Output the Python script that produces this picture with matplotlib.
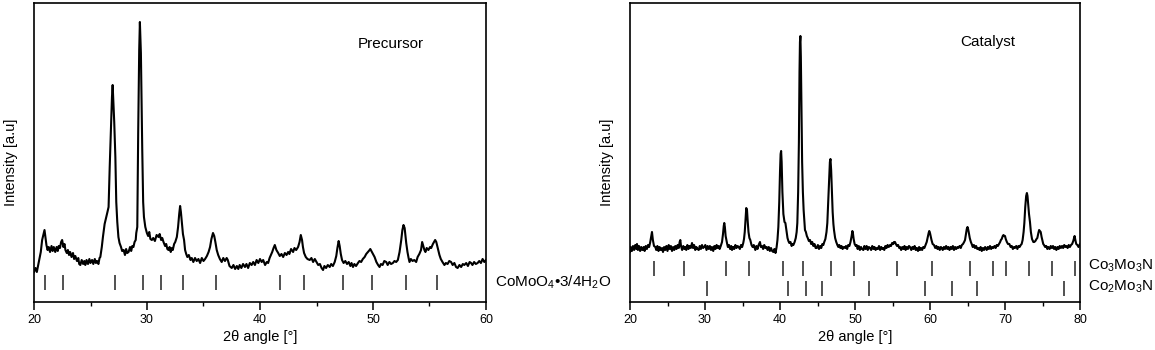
import matplotlib
matplotlib.use("Agg")
import matplotlib.pyplot as plt
from matplotlib.ticker import MultipleLocator

plt.rcParams['font.family'] = ['Liberation Sans', 'DejaVu Sans']
plt.rcParams['mathtext.fontset'] = 'custom'
plt.rcParams['mathtext.rm'] = 'Liberation Sans'
plt.rcParams['mathtext.it'] = 'Liberation Sans:italic'
plt.rcParams['mathtext.bf'] = 'Liberation Sans:bold'

# ---------------- Precursor pattern (2theta, intensity a.u.) ----------------
pre_2theta = [
    20.0, 20.13, 20.25, 20.43, 20.6, 20.72, 20.85, 20.93, 21.02, 21.1, 21.2, 21.3, 21.42, 21.55, 21.65, 21.75,
    21.88, 22.0, 22.1, 22.19, 22.3, 22.4, 22.49, 22.6, 22.7, 22.78, 22.9, 23.0, 23.1, 23.2, 23.32, 23.45, 23.55,
    23.66, 23.8, 23.92, 24.0, 24.1, 24.22, 24.35, 24.45, 24.54, 24.65, 24.78, 24.9, 25.0, 25.14, 25.25, 25.38,
    25.48, 25.58, 25.7, 25.8, 25.87, 26.0, 26.1, 26.25, 26.4, 26.5, 26.6, 26.7, 26.8, 26.9, 26.96, 27.02, 27.1,
    27.2, 27.28, 27.37, 27.47, 27.57, 27.7, 27.8, 27.93, 28.05, 28.15, 28.25, 28.37, 28.5, 28.6, 28.7, 28.8,
    28.9, 29.0, 29.05, 29.14, 29.22, 29.31, 29.37, 29.46, 29.58, 29.66, 29.73, 29.85, 29.99, 30.1, 30.2, 30.3,
    30.43, 30.55, 30.7, 30.85, 31.02, 31.12, 31.25, 31.35, 31.46, 31.6, 31.7, 31.8, 31.9, 32.0, 32.1, 32.2,
    32.28, 32.4, 32.5, 32.64, 32.75, 32.85, 32.93, 33.0, 33.08, 33.18, 33.28, 33.37, 33.47, 33.57, 33.7, 33.85,
    33.96, 34.1, 34.25, 34.4, 34.55, 34.7, 34.85, 35.0, 35.14, 35.3, 35.45, 35.58, 35.7, 35.84, 35.95, 36.05,
    36.17, 36.3, 36.45, 36.61, 36.75, 36.9, 37.05, 37.15, 37.3, 37.5, 37.65, 37.8, 37.95, 38.08, 38.2, 38.35,
    38.5, 38.67, 38.8, 38.95, 39.1, 39.26, 39.4, 39.55, 39.7, 39.85, 40.0, 40.15, 40.28, 40.45, 40.6, 40.72,
    40.85, 41.0, 41.08, 41.2, 41.31, 41.45, 41.61, 41.75, 41.9, 42.05, 42.2, 42.35, 42.49, 42.6, 42.75, 42.93,
    43.05, 43.2, 43.37, 43.5, 43.61, 43.72, 43.8, 43.9, 44.05, 44.2, 44.4, 44.55, 44.7, 44.85, 45.0, 45.15,
    45.3, 45.45, 45.58, 45.7, 45.85, 46.0, 46.17, 46.3, 46.45, 46.61, 46.75, 46.85, 46.96, 47.05, 47.15, 47.26,
    47.4, 47.55, 47.7, 47.85, 48.0, 48.1, 48.23, 48.35, 48.5, 48.67, 48.8, 48.95, 49.1, 49.26, 49.4, 49.55,
    49.7, 49.76, 49.9, 50.0, 50.14, 50.3, 50.45, 50.58, 50.7, 50.85, 51.0, 51.17, 51.3, 51.45, 51.6, 51.76,
    51.9, 52.05, 52.2, 52.35, 52.5, 52.6, 52.7, 52.8, 52.94, 53.05, 53.15, 53.23, 53.35, 53.5, 53.65, 53.82,
    53.95, 54.1, 54.25, 54.35, 54.45, 54.55, 54.64, 54.75, 54.9, 55.05, 55.15, 55.3, 55.4, 55.5, 55.6, 55.75,
    55.88, 56.0, 56.15, 56.32, 56.45, 56.6, 56.75, 56.91, 57.05, 57.2, 57.35, 57.49, 57.65, 57.8, 57.95, 58.08,
    58.25, 58.4, 58.55, 58.68, 58.8, 58.95, 59.1, 59.26, 59.4, 59.55, 59.7, 59.85, 60.0,
]
pre_intensity = [
    30, 34, 30, 40, 50, 62, 68, 72, 64, 57, 52, 55, 50, 56, 51, 55,
    50, 55, 51, 56, 54, 60, 62, 55, 58, 52, 49, 52, 47, 50, 45, 49, 43,
    46, 41, 44, 38, 37, 42, 38, 41, 37, 42, 38, 43, 39, 42, 38, 43,
    39, 41, 38, 44, 45, 55, 65, 78, 85, 90, 95, 135, 170, 205, 217, 200, 180,
    145, 100, 80, 65, 59, 55, 51, 52, 47, 53, 49, 50, 55, 51, 56, 55,
    60, 62, 69, 75, 169, 252, 280, 249, 152, 100, 85, 75, 69, 66, 70, 63,
    62, 64, 61, 67, 65, 68, 62, 64, 60, 56, 58, 53, 52, 55, 50, 54,
    52, 58, 60, 65, 75, 88, 96, 90, 80, 68, 62, 52, 48, 45, 47, 42,
    44, 40, 44, 41, 43, 39, 44, 41, 43, 46, 50, 55, 63, 69, 66, 60,
    52, 47, 43, 40, 44, 41, 44, 42, 36, 34, 37, 33, 36, 33, 37, 34,
    38, 35, 38, 34, 39, 37, 40, 37, 42, 39, 43, 40, 42, 37, 40, 39,
    44, 48, 50, 54, 57, 52, 49, 46, 48, 45, 49, 47, 50, 48, 53, 50,
    54, 52, 55, 60, 67, 62, 55, 49, 45, 43, 42, 44, 40, 43, 40, 37,
    38, 34, 32, 36, 34, 37, 35, 38, 36, 40, 46, 54, 61, 56, 48, 42,
    39, 41, 38, 40, 36, 39, 35, 38, 36, 39, 41, 40, 43, 45, 48, 50,
    52, 53, 50, 48, 45, 40, 37, 35, 38, 37, 41, 40, 37, 40, 38, 39,
    41, 40, 42, 50, 62, 72, 77, 74, 59, 50, 44, 40, 43, 41, 42, 40,
    45, 48, 52, 60, 56, 52, 50, 54, 52, 55, 54, 58, 60, 62, 60, 53,
    47, 43, 40, 37, 39, 38, 41, 40, 37, 39, 35, 34, 37, 35, 38, 37,
    39, 36, 40, 39, 37, 40, 38, 39, 41, 39, 43, 40, 42,
]

# ---------------- Catalyst pattern ----------------
cat_2theta = [
    20.0, 20.1, 20.25, 20.4, 20.55, 20.7, 20.85, 20.93, 21.05, 21.2, 21.35, 21.5, 21.65, 21.82, 21.95, 22.1,
    22.25, 22.4, 22.55, 22.7, 22.82, 22.93, 23.05, 23.2, 23.38, 23.5, 23.65, 23.8, 23.95, 24.1, 24.27, 24.4,
    24.55, 24.7, 24.85, 25.0, 25.16, 25.3, 25.45, 25.6, 25.75, 25.9, 26.04, 26.2, 26.35, 26.5, 26.62, 26.71,
    26.8, 26.95, 27.1, 27.25, 27.37, 27.5, 27.65, 27.8, 27.95, 28.1, 28.27, 28.4, 28.55, 28.7, 28.85, 29.0,
    29.16, 29.3, 29.45, 29.6, 29.75, 29.9, 30.04, 30.2, 30.35, 30.5, 30.65, 30.8, 30.93, 31.1, 31.25, 31.4,
    31.55, 31.7, 31.83, 31.95, 32.1, 32.27, 32.4, 32.5, 32.57, 32.65, 32.75, 32.93, 33.05, 33.2, 33.35, 33.5,
    33.6, 33.75, 33.9, 34.05, 34.2, 34.35, 34.49, 34.65, 34.8, 34.95, 35.1, 35.2, 35.3, 35.42, 35.5, 35.6,
    35.7, 35.8, 35.92, 36.04, 36.2, 36.35, 36.5, 36.71, 36.85, 37.0, 37.15, 37.33, 37.45, 37.6, 37.75, 37.9,
    38.05, 38.22, 38.35, 38.5, 38.65, 38.8, 38.95, 39.11, 39.25, 39.4, 39.55, 39.66, 39.78, 39.9, 40.0, 40.08,
    40.15, 40.22, 40.32, 40.45, 40.6, 40.72, 40.85, 41.0, 41.12, 41.24, 41.4, 41.55, 41.68, 41.78, 41.95, 42.1,
    42.22, 42.31, 42.42, 42.52, 42.6, 42.66, 42.72, 42.78, 42.86, 42.95, 43.05, 43.15, 43.25, 43.33, 43.45, 43.58,
    43.7, 43.85, 44.0, 44.15, 44.3, 44.45, 44.6, 44.75, 44.89, 45.05, 45.2, 45.35, 45.5, 45.65, 45.78, 45.9,
    46.05, 46.2, 46.31, 46.45, 46.55, 46.65, 46.73, 46.82, 46.92, 47.02, 47.12, 47.2, 47.35, 47.5, 47.65, 47.78,
    47.9, 48.05, 48.2, 48.35, 48.5, 48.67, 48.8, 48.95, 49.1, 49.25, 49.4, 49.55, 49.65, 49.72, 49.82, 49.95,
    50.1, 50.22, 50.35, 50.5, 50.65, 50.8, 50.95, 51.11, 51.25, 51.4, 51.55, 51.7, 51.85, 52.0, 52.15, 52.3,
    52.45, 52.6, 52.75, 52.89, 53.05, 53.2, 53.35, 53.5, 53.65, 53.78, 53.9, 54.05, 54.2, 54.35, 54.5, 54.67,
    54.8, 54.95, 55.1, 55.2, 55.33, 55.45, 55.6, 55.75, 55.9, 56.0, 56.15, 56.3, 56.45, 56.6, 56.75, 56.9,
    57.05, 57.2, 57.33, 57.5, 57.65, 57.8, 57.95, 58.1, 58.25, 58.4, 58.55, 58.67, 58.8, 58.95, 59.1, 59.25,
    59.4, 59.56, 59.7, 59.82, 59.9, 60.0, 60.09, 60.2, 60.35, 60.53, 60.7, 60.85, 61.0, 61.15, 61.3, 61.45,
    61.56, 61.7, 61.85, 62.0, 62.15, 62.3, 62.45, 62.6, 62.75, 62.9, 63.05, 63.2, 63.35, 63.5, 63.65, 63.78,
    63.95, 64.1, 64.25, 64.4, 64.55, 64.67, 64.8, 64.9, 65.0, 65.08, 65.16, 65.3, 65.45, 65.56, 65.7, 65.85,
    66.0, 66.15, 66.3, 66.44, 66.6, 66.75, 66.9, 67.05, 67.2, 67.35, 67.56, 67.7, 67.85, 68.0, 68.15, 68.3,
    68.45, 68.6, 68.75, 68.9, 69.05, 69.2, 69.35, 69.45, 69.56, 69.7, 69.8, 69.9, 70.0, 70.1, 70.25, 70.4,
    70.58, 70.75, 70.9, 71.05, 71.2, 71.33, 71.5, 71.65, 71.8, 71.95, 72.1, 72.22, 72.35, 72.48, 72.58, 72.7,
    72.82, 72.92, 73.0, 73.1, 73.2, 73.33, 73.45, 73.6, 73.78, 73.9, 74.05, 74.2, 74.31, 74.45, 74.55, 74.65,
    74.76, 74.88, 75.0, 75.1, 75.2, 75.35, 75.5, 75.65, 75.78, 75.95, 76.1, 76.25, 76.4, 76.55, 76.7, 76.85,
    77.0, 77.15, 77.3, 77.45, 77.6, 77.75, 77.9, 78.05, 78.2, 78.35, 78.5, 78.65, 78.8, 78.95, 79.1, 79.2,
    79.28, 79.38, 79.5, 79.65, 79.8, 80.0,
]
cat_intensity = [
    50, 55, 51, 56, 52, 57, 53, 58, 52, 56, 51, 55, 52, 55, 51, 56,
    53, 57, 55, 60, 65, 70, 62, 56, 55, 52, 56, 51, 55, 52, 54, 50,
    55, 52, 56, 51, 57, 53, 56, 51, 55, 52, 56, 53, 57, 54, 60, 62,
    56, 52, 56, 53, 55, 52, 57, 53, 56, 54, 59, 54, 57, 52, 55, 53,
    52, 56, 53, 57, 54, 55, 57, 52, 56, 53, 56, 52, 55, 51, 56, 53,
    57, 54, 56, 53, 56, 60, 68, 76, 79, 75, 66, 59, 55, 57, 53, 56,
    52, 55, 53, 57, 54, 56, 55, 53, 57, 55, 59, 63, 70, 85, 94, 92,
    80, 70, 64, 62, 57, 55, 57, 52, 56, 53, 57, 60, 55, 56, 53, 57,
    54, 55, 52, 55, 51, 54, 51, 50, 53, 49, 55, 62, 75, 100, 130, 148,
    151, 140, 110, 88, 80, 79, 72, 64, 61, 59, 60, 56, 58, 57, 60, 64,
    70, 79, 110, 160, 230, 260, 266, 245, 195, 140, 110, 92, 80, 72, 70, 66,
    64, 61, 62, 58, 60, 56, 58, 54, 54, 57, 53, 56, 54, 58, 57, 60,
    63, 70, 79, 105, 125, 140, 143, 132, 110, 90, 78, 72, 64, 60, 57, 55,
    57, 54, 56, 53, 55, 54, 56, 53, 57, 56, 60, 66, 71, 69, 63, 58,
    56, 57, 53, 56, 52, 55, 53, 52, 56, 53, 56, 52, 55, 54, 52, 56,
    53, 55, 52, 54, 53, 56, 52, 55, 53, 54, 52, 56, 54, 57, 55, 57,
    56, 59, 58, 60, 60, 58, 56, 57, 54, 55, 52, 55, 53, 56, 52, 55,
    53, 56, 55, 52, 55, 53, 56, 52, 54, 51, 55, 52, 54, 52, 55, 54,
    57, 60, 65, 69, 71, 69, 66, 62, 58, 57, 54, 56, 53, 55, 52, 55,
    54, 52, 55, 53, 56, 53, 55, 52, 55, 53, 56, 52, 55, 53, 55, 54,
    56, 54, 57, 58, 60, 62, 68, 73, 75, 73, 70, 64, 60, 58, 55, 57,
    54, 56, 53, 54, 52, 55, 51, 54, 52, 55, 52, 55, 53, 56, 53, 55,
    54, 56, 54, 57, 56, 58, 60, 62, 63, 66, 67, 66, 66, 63, 60, 58,
    58, 55, 56, 53, 55, 54, 56, 53, 56, 55, 57, 58, 62, 70, 79, 95,
    106, 109, 106, 97, 88, 80, 70, 63, 60, 60, 61, 63, 64, 69, 72, 71,
    70, 65, 61, 58, 57, 55, 56, 53, 55, 53, 56, 54, 56, 53, 55, 52,
    55, 53, 56, 54, 56, 54, 57, 55, 56, 54, 57, 55, 57, 58, 61, 64,
    66, 62, 58, 57, 55, 58,
]

# ---------------- Reference line positions ----------------
ref_comoo4 = [20.98, 22.59, 27.2, 29.61, 31.24, 33.17, 36.08, 41.75, 43.86, 47.33, 49.92, 52.93, 55.64]
ref_co3mo3n = [23.15, 27.17, 32.84, 35.8, 40.43, 43.0, 46.76, 49.93, 55.54, 60.29, 65.37, 68.39, 70.12,
               73.24, 76.21, 79.38]
ref_co2mo3n = [30.31, 41.1, 43.41, 45.61, 51.89, 59.33, 62.88, 66.24, 77.84]

panel_titles = ['Precursor', 'Catalyst']
ref_labels_left = [r'CoMoO$_4$•3/4H$_2$O']
ref_labels_right = [r'Co$_3$Mo$_3$N', r'Co$_2$Mo$_3$N']

W, H = 1155, 350
fig = plt.figure(figsize=(W / 100, H / 100), dpi=100)
ax1 = fig.add_axes([34 / W, 1 - 302 / H, 452 / W, 299 / H])
ax2 = fig.add_axes([630 / W, 1 - 302 / H, 450 / W, 299 / H])

LW = 1.5
TICKFS = 9
LABFS = 10.5


def style(ax, xmin, xmax):
    ax.set_xlim(xmin, xmax)
    ax.set_ylim(0, 299)
    ax.xaxis.set_major_locator(MultipleLocator(10))
    ax.xaxis.set_minor_locator(MultipleLocator(5))
    ax.tick_params(axis='x', which='major', direction='out', length=5.5, width=1.1,
                   labelsize=TICKFS, pad=3, top=False)
    ax.tick_params(axis='x', which='minor', direction='out', length=2.8, width=1.0, top=False)
    ax.tick_params(axis='y', left=False, right=False, labelleft=False)
    for s in ax.spines.values():
        s.set_linewidth(1.2)
    ax.set_xlabel('2θ angle [°]', fontsize=LABFS, labelpad=3)
    ax.set_ylabel('Intensity [a.u]', fontsize=LABFS)
    ax.yaxis.set_label_coords(-0.036, 0.468)


ax1.plot(pre_2theta, pre_intensity, color='black', lw=LW)
ax1.vlines(ref_comoo4, 12.5, 27.5, color='#222222', lw=1.1)
style(ax1, 20, 60)
ax1.text(0.717, 0.863, panel_titles[0], transform=ax1.transAxes, fontsize=11, va='center', ha='left')
ax1.text(1.02, 20, ref_labels_left[0], transform=ax1.get_yaxis_transform(), fontsize=11,
         va='center', ha='left')

ax2.plot(cat_2theta, cat_intensity, color='black', lw=LW)
ax2.vlines(ref_co3mo3n, 26.5, 41.5, color='#222222', lw=1.1)
ax2.vlines(ref_co2mo3n, 6, 21, color='#222222', lw=1.1)
style(ax2, 20, 80)
ax2.text(0.734, 0.870, panel_titles[1], transform=ax2.transAxes, fontsize=11, va='center', ha='left')
ax2.text(1.018, 36, ref_labels_right[0], transform=ax2.get_yaxis_transform(), fontsize=11,
         va='center', ha='left')
ax2.text(1.018, 15, ref_labels_right[1], transform=ax2.get_yaxis_transform(), fontsize=11,
         va='center', ha='left')

fig.savefig('out.png', dpi=100)
